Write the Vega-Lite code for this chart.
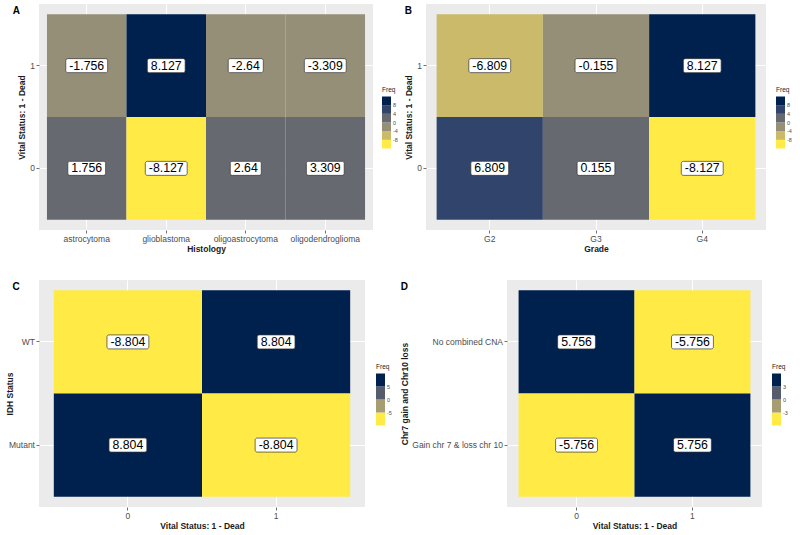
{
  "$schema": "https://vega.github.io/schema/vega-lite/v6.json",
  "background": "white",
  "padding": {"left": 5, "top": 4, "right": 0, "bottom": 0},
  "config": {
    "view": {"fill": "#EBEBEB", "stroke": null},
    "font": "Liberation Sans",
    "axis": {"domain": false, "grid": true, "gridColor": "white", "gridWidth": 1, "bandPosition": 0.5, "tickColor": "#333333", "tickSize": 3, "tickWidth": 0.7, "labelFontSize": 8.5, "labelColor": "#4D4D4D", "labelPadding": 1.5, "titleFontSize": 8.5, "titleFontWeight": "bold", "titleColor": "#1A1A1A", "titlePadding": 3, "zindex": 0},
    "axisX": {"labelAngle": 0, "titlePadding": 1},
    "legend": {"titleFontSize": 6.5, "titleFontWeight": "normal", "titleColor": "#1A1A1A", "labelFontSize": 5.5, "labelColor": "#4D4D4D", "gradientThickness": 9, "gradientLength": 52, "titlePadding": 3, "labelOffset": 3, "gradientStrokeWidth": 0, "padding": 0, "offset": 0},
    "title": {"fontSize": 10, "fontWeight": "bold", "anchor": "start", "frame": "bounds", "color": "black", "offset": -12}
  },
  "datasets": {
    "histology": [
      {"Histology": "astrocytoma", "Vital": "1", "Freq": -1.756},
      {"Histology": "astrocytoma", "Vital": "0", "Freq": 1.756},
      {"Histology": "glioblastoma", "Vital": "1", "Freq": 8.127},
      {"Histology": "glioblastoma", "Vital": "0", "Freq": -8.127},
      {"Histology": "oligoastrocytoma", "Vital": "1", "Freq": -2.64},
      {"Histology": "oligoastrocytoma", "Vital": "0", "Freq": 2.64},
      {"Histology": "oligodendroglioma", "Vital": "1", "Freq": -3.309},
      {"Histology": "oligodendroglioma", "Vital": "0", "Freq": 3.309}
    ],
    "grade": [
      {"Grade": "G2", "Vital": "1", "Freq": -6.809},
      {"Grade": "G2", "Vital": "0", "Freq": 6.809},
      {"Grade": "G3", "Vital": "1", "Freq": -0.155},
      {"Grade": "G3", "Vital": "0", "Freq": 0.155},
      {"Grade": "G4", "Vital": "1", "Freq": 8.127},
      {"Grade": "G4", "Vital": "0", "Freq": -8.127}
    ],
    "idh": [
      {"Vital": "0", "IDH": "WT", "Freq": -8.804},
      {"Vital": "1", "IDH": "WT", "Freq": 8.804},
      {"Vital": "0", "IDH": "Mutant", "Freq": 8.804},
      {"Vital": "1", "IDH": "Mutant", "Freq": -8.804}
    ],
    "chr": [
      {"Vital": "0", "CNA": "No combined CNA", "Freq": 5.756},
      {"Vital": "1", "CNA": "No combined CNA", "Freq": -5.756},
      {"Vital": "0", "CNA": "Gain chr 7 & loss chr 10", "Freq": -5.756},
      {"Vital": "1", "CNA": "Gain chr 7 & loss chr 10", "Freq": 5.756}
    ]
  },
  "spacing": 27,
  "resolve": {"scale": {"color": "independent"}, "legend": {"color": "independent"}},
  "vconcat": [
    {
      "spacing": 6,
      "resolve": {"scale": {"color": "independent"}, "legend": {"color": "independent"}},
      "hconcat": [
        {
          "title": {"text": "A", "dx": -5},
          "width": 334, "height": 226,
          "data": {"name": "histology"},
          "transform": [
            {"calculate": "replace(format(datum.Freq, '.4~g'), '\u2212', '-')", "as": "lab"},
            {"calculate": "6.84*(length(datum.lab) - 1 - (datum.Freq < 0 ? 1 : 0)) + 3.42 + (datum.Freq < 0 ? 4.1 : 0) + 7", "as": "w"}
          ],
          "encoding": {
            "x": {"field": "Histology", "type": "nominal", "title": "Histology", "scale": {"paddingInner": 0, "paddingOuter": 0.1}},
            "y": {"field": "Vital", "type": "nominal", "sort": "descending", "title": "Vital Status: 1 - Dead", "scale": {"paddingInner": 0, "paddingOuter": 0.1}}
          },
          "layer": [
            {"mark": {"type": "rect", "zindex": 1}, "encoding": {"color": {"field": "Freq", "type": "quantitative", "scale": {"type": "threshold", "domain": [-8, -4, 0, 4, 8], "range": ["#FFEA46", "#CBBA69", "#958F78", "#666970", "#31446B", "#00204D"]}, "legend": {"type": "gradient", "orient": "none", "legendX": 343, "legendY": 83}}}},
            {"mark": {"type": "tick", "zindex": 2, "orient": "horizontal", "thickness": 14, "fill": "white", "stroke": "#333333", "strokeWidth": 0.7, "cornerRadius": 2, "opacity": 1}, "encoding": {"size": {"field": "w", "type": "quantitative", "scale": null}}},
            {"mark": {"type": "text", "zindex": 3, "fontSize": 12.3, "fill": "black"}, "encoding": {"text": {"field": "lab"}}}
          ]
        },
        {
          "title": "B",
          "width": 340, "height": 226,
          "data": {"name": "grade"},
          "transform": [
            {"calculate": "replace(format(datum.Freq, '.4~g'), '\u2212', '-')", "as": "lab"},
            {"calculate": "6.84*(length(datum.lab) - 1 - (datum.Freq < 0 ? 1 : 0)) + 3.42 + (datum.Freq < 0 ? 4.1 : 0) + 7", "as": "w"}
          ],
          "encoding": {
            "x": {"field": "Grade", "type": "nominal", "title": "Grade", "scale": {"paddingInner": 0, "paddingOuter": 0.1}},
            "y": {"field": "Vital", "type": "nominal", "sort": "descending", "title": "Vital Status: 1 - Dead", "scale": {"paddingInner": 0, "paddingOuter": 0.1}}
          },
          "layer": [
            {"mark": {"type": "rect", "zindex": 1}, "encoding": {"color": {"field": "Freq", "type": "quantitative", "scale": {"type": "threshold", "domain": [-8, -4, 0, 4, 8], "range": ["#FFEA46", "#CBBA69", "#958F78", "#666970", "#31446B", "#00204D"]}, "legend": {"type": "gradient", "orient": "none", "legendX": 350, "legendY": 83}}}},
            {"mark": {"type": "tick", "zindex": 2, "orient": "horizontal", "thickness": 14, "fill": "white", "stroke": "#333333", "strokeWidth": 0.7, "cornerRadius": 2, "opacity": 1}, "encoding": {"size": {"field": "w", "type": "quantitative", "scale": null}}},
            {"mark": {"type": "text", "zindex": 3, "fontSize": 12.3, "fill": "black"}, "encoding": {"text": {"field": "lab"}}}
          ]
        }
      ]
    },
    {
      "spacing": 8,
      "resolve": {"scale": {"color": "independent"}, "legend": {"color": "independent"}},
      "hconcat": [
        {
          "title": {"text": "C", "dx": 7},
          "width": 326, "height": 227,
          "data": {"name": "idh"},
          "transform": [
            {"calculate": "replace(format(datum.Freq, '.4~g'), '\u2212', '-')", "as": "lab"},
            {"calculate": "6.84*(length(datum.lab) - 1 - (datum.Freq < 0 ? 1 : 0)) + 3.42 + (datum.Freq < 0 ? 4.1 : 0) + 7", "as": "w"}
          ],
          "encoding": {
            "x": {"field": "Vital", "type": "nominal", "title": "Vital Status: 1 - Dead", "scale": {"paddingInner": 0, "paddingOuter": 0.1}},
            "y": {"field": "IDH", "type": "nominal", "sort": ["WT", "Mutant"], "title": "IDH Status", "scale": {"paddingInner": 0, "paddingOuter": 0.1}, "axis": {"titlePadding": -6}}
          },
          "layer": [
            {"mark": {"type": "rect", "zindex": 1}, "encoding": {"color": {"field": "Freq", "type": "quantitative", "scale": {"type": "threshold", "domain": [-5, 0, 5], "range": ["#FFEA46", "#A69D75", "#575C6D", "#00204D"]}, "legend": {"type": "gradient", "orient": "none", "legendX": 337, "legendY": 84}}}},
            {"mark": {"type": "tick", "zindex": 2, "orient": "horizontal", "thickness": 14, "fill": "white", "stroke": "#333333", "strokeWidth": 0.7, "cornerRadius": 2, "opacity": 1}, "encoding": {"size": {"field": "w", "type": "quantitative", "scale": null}}},
            {"mark": {"type": "text", "zindex": 3, "fontSize": 12.3, "fill": "black"}, "encoding": {"text": {"field": "lab"}}}
          ]
        },
        {
          "title": "D",
          "width": 255, "height": 227,
          "data": {"name": "chr"},
          "transform": [
            {"calculate": "replace(format(datum.Freq, '.4~g'), '\u2212', '-')", "as": "lab"},
            {"calculate": "6.84*(length(datum.lab) - 1 - (datum.Freq < 0 ? 1 : 0)) + 3.42 + (datum.Freq < 0 ? 4.1 : 0) + 7", "as": "w"}
          ],
          "encoding": {
            "x": {"field": "Vital", "type": "nominal", "title": "Vital Status: 1 - Dead", "scale": {"paddingInner": 0, "paddingOuter": 0.1}},
            "y": {"field": "CNA", "type": "nominal", "sort": ["No combined CNA", "Gain chr 7 & loss chr 10"], "title": "Chr7 gain and Chr10 loss", "scale": {"paddingInner": 0, "paddingOuter": 0.1}, "axis": {"titlePadding": 2}}
          },
          "layer": [
            {"mark": {"type": "rect", "zindex": 1}, "encoding": {"color": {"field": "Freq", "type": "quantitative", "scale": {"type": "threshold", "domain": [-3, 0, 3], "range": ["#FFEA46", "#A69D75", "#575C6D", "#00204D"]}, "legend": {"type": "gradient", "orient": "none", "legendX": 265, "legendY": 84}}}},
            {"mark": {"type": "tick", "zindex": 2, "orient": "horizontal", "thickness": 14, "fill": "white", "stroke": "#333333", "strokeWidth": 0.7, "cornerRadius": 2, "opacity": 1}, "encoding": {"size": {"field": "w", "type": "quantitative", "scale": null}}},
            {"mark": {"type": "text", "zindex": 3, "fontSize": 12.3, "fill": "black"}, "encoding": {"text": {"field": "lab"}}}
          ]
        }
      ]
    }
  ]
}
